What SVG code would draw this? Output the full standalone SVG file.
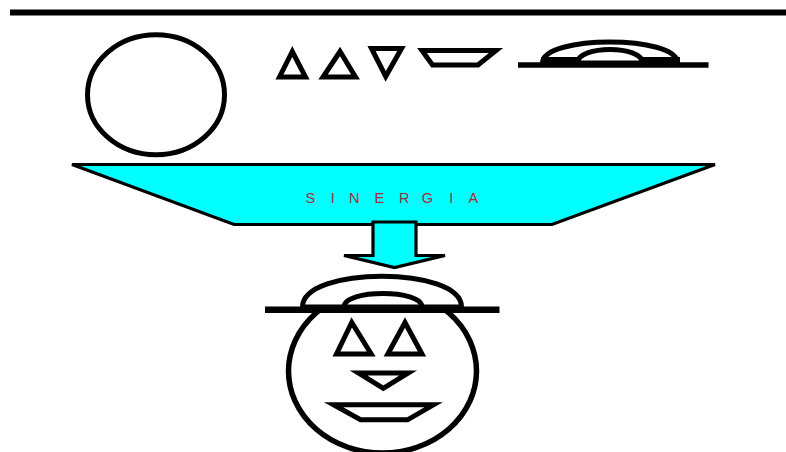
<svg xmlns="http://www.w3.org/2000/svg" width="786" height="452" viewBox="0 0 786 452">
<style>
.k{fill:none;stroke:#000;stroke-width:5;stroke-linejoin:miter}
.kw{fill:#fff;stroke:#000;stroke-width:5}
.cy{fill:#00FFFF;stroke:#000;stroke-width:3.2;stroke-linejoin:miter}
.t{font-family:"Liberation Sans",Arial,sans-serif;font-size:14.5px;fill:#A82A38;text-anchor:middle}
</style>
<rect width="786" height="452" fill="#fff"/>
<g id="top-rule"><line x1="10" y1="12.5" x2="786" y2="12.5" stroke="#000" stroke-width="6"/></g>
<g id="oval"><ellipse cx="156" cy="94.7" rx="68.5" ry="60" class="k" stroke-width="4.6"/></g>
<g id="triangle-1"><path d="M292.3,51.5 L279.5,77 L305.5,77 Z" class="k"/></g>
<g id="triangle-2"><path d="M340,51.5 L323,77 L355.5,77 Z" class="k"/></g>
<g id="triangle-down"><path d="M371.5,48.5 L401.5,48.5 L385.7,76.5 Z" class="k"/></g>
<g id="trapezoid"><path d="M422,50.5 L496,50.5 L478,65 L432.5,65 Z" class="k"/></g>
<g id="hat">
<rect x="541" y="57" width="139" height="6" fill="#000"/>
<path d="M542.5,63 C542.5,35 677.5,35 677.5,63" class="k"/>
<path d="M577.5,63 C577.5,45 642.5,45 642.5,63 Z" fill="#fff" stroke="#000" stroke-width="5"/>
<line x1="518" y1="65" x2="708.5" y2="65" stroke="#000" stroke-width="5.5"/>
</g>
<g id="sinergia">
<path d="M72,164.5 L715,164.5 L552,224.5 L234,224.5 Z" class="cy"/>
<text class="t" y="202.5"><tspan x="310.3">S</tspan><tspan x="332.8">I</tspan><tspan x="354.2">N</tspan><tspan x="379.3">E</tspan><tspan x="404.2">R</tspan><tspan x="427.5">G</tspan><tspan x="451.2">I</tspan><tspan x="473.3">A</tspan></text>
</g>
<g id="connectors">
<path d="M373,222 L416,222 L416,255.5 L445,255.5 L394.5,267.5 L344,255.5 L373,255.5 Z" class="cy" stroke-width="2.8"/>
</g>
<g id="face">
<ellipse cx="382.5" cy="371" rx="94" ry="82" fill="#fff" stroke="#000" stroke-width="5.5"/>
<path d="M302.5,307 C302.5,266 461.5,266 461.5,307 Z" class="kw"/>
<path d="M344,307 C344,289 422,289 422,307" class="k"/>
<line x1="265" y1="309.7" x2="499.5" y2="309.7" stroke="#000" stroke-width="6.5"/>
<path d="M351.7,322.5 L336.5,354 L371.2,354 Z" class="k" stroke-width="5.8"/>
<path d="M405,322.5 L387.8,354 L422,354 Z" class="k" stroke-width="5.8"/>
<path d="M358.5,373 L408.2,373 L383.3,388.3 Z" class="k" stroke-width="6"/>
<path d="M333.5,404.8 L433.5,404.8 L407.5,419.8 L360.5,419.8 Z" class="k" stroke-width="6"/>
</g>
</svg>
